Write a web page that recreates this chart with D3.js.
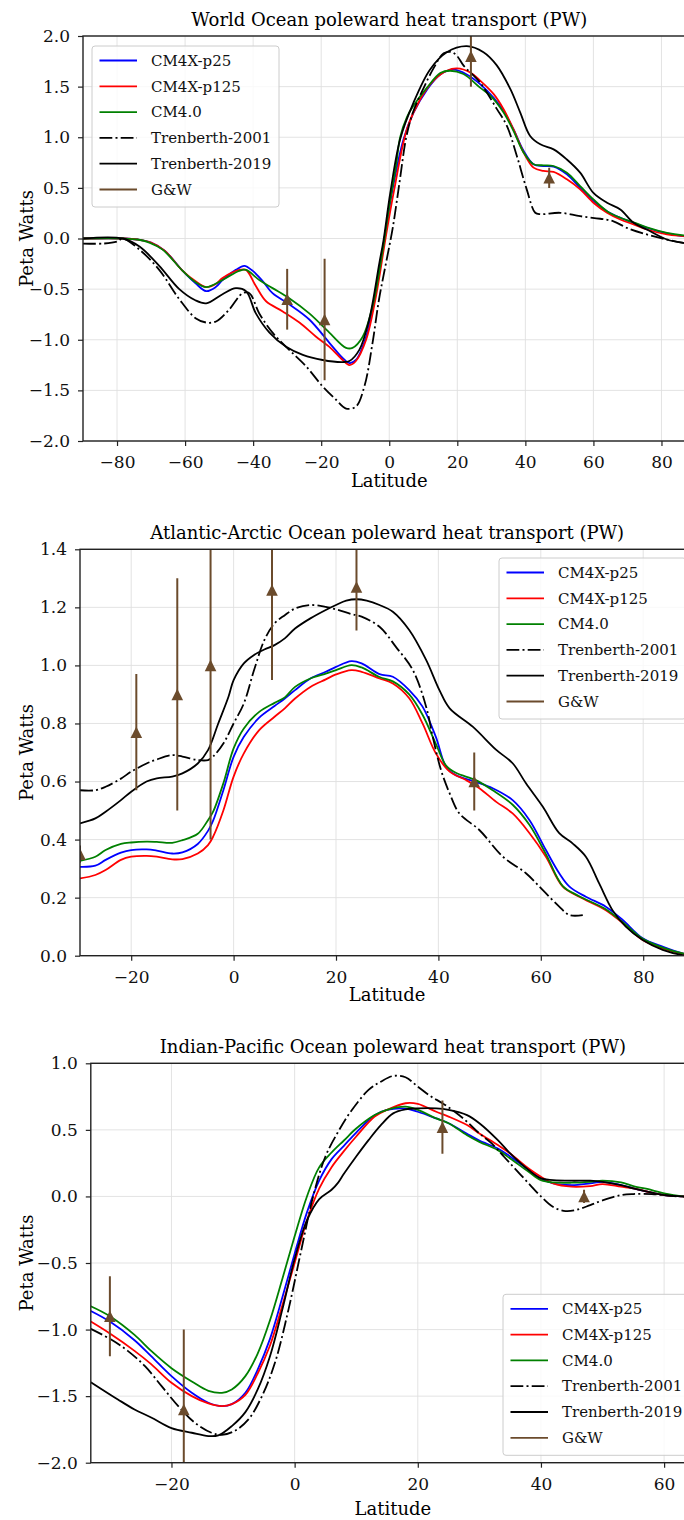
<!DOCTYPE html>
<html>
<head>
<meta charset="utf-8">
<script src="https://cdn.jsdelivr.net/npm/d3@7"></script>
<style>
  body { margin: 0; background: #fff; }
  svg { display: block; overflow: hidden; }
</style>
</head>
<body>
<svg id="chart" width="684" height="1520"></svg>
<script>
// ---- series names (legend order) ----
const seriesNames = ["CM4X-p25", "CM4X-p125", "CM4.0", "Trenberth-2001", "Trenberth-2019", "G&W"];

// ---- World Ocean, [latitude, PW] ----
const worldP25 = [[-90,0],[-78,0],[-74,-0.01],[-70,-0.04],[-66,-0.12],[-60.7,-0.32],[-57,-0.44],[-53.8,-0.52],[-51,-0.48],[-49,-0.41],[-45.1,-0.31],[-42.6,-0.27],[-40.1,-0.32],[-37.2,-0.42],[-34.3,-0.54],[-29.4,-0.65],[-23.5,-0.80],[-17.6,-1.03],[-13.7,-1.18],[-11.7,-1.23],[-9.8,-1.20],[-6.8,-0.97],[-3.9,-0.50],[-1,0.09],[1,0.49],[4.2,0.98],[7.1,1.24],[11.1,1.47],[15,1.62],[18.9,1.667],[22.8,1.62],[26.7,1.525],[30.7,1.39],[33.6,1.26],[36.5,1.08],[39.5,0.865],[42.4,0.733],[45.3,0.716],[48.3,0.71],[52.2,0.634],[56.1,0.50],[60,0.37],[64,0.27],[67.9,0.205],[71.8,0.155],[75.7,0.106],[81.6,0.05],[86.5,0.023],[90,0.01]];
const worldP125 = [[-90,0],[-78,0],[-74,-0.01],[-70,-0.04],[-66,-0.12],[-60.7,-0.32],[-57,-0.42],[-53.8,-0.48],[-51,-0.45],[-49,-0.39],[-44.1,-0.31],[-42.1,-0.31],[-39.2,-0.47],[-36.2,-0.62],[-31.3,-0.72],[-26.4,-0.83],[-21.5,-0.97],[-17.6,-1.07],[-13.7,-1.20],[-11.7,-1.25],[-9.8,-1.21],[-6.8,-1.0],[-3.9,-0.57],[-1,0.02],[1.5,0.49],[5.2,1.08],[9.1,1.376],[13,1.56],[16.9,1.657],[19.9,1.68],[23.8,1.64],[26.7,1.56],[30.7,1.426],[33.6,1.277],[36.5,1.079],[39.5,0.848],[42.4,0.70],[45.3,0.667],[48.3,0.657],[52.2,0.584],[56.1,0.485],[60,0.353],[64,0.254],[67.9,0.188],[71.8,0.139],[75.7,0.089],[81.6,0.04],[86.5,0.023],[90,0.01]];
const worldCM4 = [[-90,0],[-78,0],[-74,-0.01],[-70.5,-0.04],[-66.6,-0.11],[-60.7,-0.32],[-57,-0.43],[-53.8,-0.48],[-49,-0.41],[-44.1,-0.32],[-42.1,-0.31],[-38.2,-0.41],[-34.3,-0.49],[-29.4,-0.59],[-23.5,-0.74],[-17.6,-0.93],[-12.7,-1.08],[-10.8,-1.08],[-7.8,-0.97],[-4.9,-0.67],[-1.9,-0.11],[0,0.32],[2,0.72],[3.2,1.0],[5.2,1.2],[7.1,1.31],[11.1,1.49],[15,1.634],[17.9,1.657],[21.8,1.624],[26.7,1.49],[29.7,1.41],[33.6,1.244],[36.5,1.063],[39.5,0.848],[42.4,0.733],[45.3,0.723],[48.3,0.716],[52.2,0.65],[56.1,0.518],[60,0.386],[64,0.27],[67.9,0.205],[71.8,0.16],[75.7,0.11],[81.6,0.056],[86.5,0.03],[90,0.02]];
const worldT2001 = [[-90,-0.05],[-84,-0.05],[-80,-0.03],[-78.3,0],[-73.4,-0.11],[-67.6,-0.31],[-61.7,-0.60],[-56.8,-0.79],[-53.8,-0.83],[-50.9,-0.82],[-47,-0.70],[-43.1,-0.54],[-41.1,-0.54],[-38.2,-0.74],[-34.3,-0.93],[-29.4,-1.10],[-24.5,-1.26],[-19.6,-1.46],[-15.7,-1.59],[-12.7,-1.68],[-9.8,-1.66],[-7.3,-1.46],[-5,-1.05],[-3,-0.6],[-1,-0.25],[1,0.1],[3,0.55],[5,1.0],[7,1.25],[10,1.48],[13,1.68],[16,1.83],[18.4,1.84],[20,1.8],[21.8,1.71],[26.7,1.54],[31.6,1.28],[34.6,1.11],[37.5,0.815],[40.4,0.485],[42.9,0.254],[44.4,0.24],[50.2,0.254],[56.1,0.22],[62,0.195],[65.9,0.17],[69.8,0.105],[75.7,0.04],[81.6,-0.01],[86.5,-0.043],[90,-0.05]];
const worldT2019 = [[-90,0],[-78.3,0],[-73.4,-0.08],[-67.6,-0.27],[-61.7,-0.50],[-57,-0.61],[-53.8,-0.64],[-49,-0.55],[-45.1,-0.49],[-42.1,-0.52],[-39.2,-0.74],[-35.2,-0.93],[-30.3,-1.07],[-25.4,-1.15],[-19.6,-1.20],[-13.7,-1.22],[-11.7,-1.21],[-8.8,-1.10],[-5.9,-0.80],[-2.9,-0.24],[-1.7,-0.02],[0.3,0.45],[3.2,0.98],[7.1,1.34],[12,1.67],[16.9,1.84],[22.8,1.90],[27.7,1.84],[31.6,1.71],[35.6,1.475],[38.5,1.244],[41.4,1.013],[44.4,0.93],[48.3,0.88],[52.2,0.78],[56.1,0.65],[60,0.45],[64,0.353],[67.9,0.287],[71.8,0.155],[75.7,0.089],[81.6,-0.01],[86.5,-0.043],[90,-0.05]];
const worldGwLat = [-30, -19, 24, 47];
const worldGwVal = [-0.6, -0.8, 1.8, 0.6];
const worldGwErr = [0.3, 0.6, 0.3, 0.1];

// ---- Atlantic-Arctic Ocean ----
const atlP25 = [[-30,0.306],[-27,0.31],[-25,0.33],[-22,0.355],[-20,0.364],[-17,0.366],[-15,0.362],[-12,0.352],[-10,0.356],[-7,0.385],[-5,0.43],[-4,0.465],[-2,0.57],[0,0.685],[2,0.754],[5,0.82],[8,0.86],[10,0.886],[12,0.915],[15,0.955],[18,0.978],[20,0.995],[23,1.015],[25,1.007],[28.5,0.97],[31.1,0.961],[34.3,0.915],[36.9,0.858],[39.5,0.754],[41.5,0.651],[43.4,0.622],[47.3,0.599],[50.6,0.577],[54.5,0.536],[57.8,0.467],[61,0.364],[63.6,0.284],[65.6,0.238],[68.8,0.203],[72.7,0.169],[76,0.123],[79.9,0.06],[83.8,0.031],[87.7,0.008],[90,0.003]];
const atlP125 = [[-30,0.266],[-27,0.278],[-25,0.295],[-22,0.33],[-20,0.341],[-17,0.344],[-15,0.341],[-12,0.332],[-10,0.333],[-7,0.352],[-5,0.381],[-4,0.41],[-2,0.50],[0,0.617],[2,0.697],[5,0.777],[8,0.823],[10,0.852],[12,0.886],[15,0.926],[18,0.952],[20,0.969],[23,0.984],[25,0.978],[28.5,0.955],[31.1,0.938],[34.3,0.887],[36.9,0.80],[39.5,0.697],[42.2,0.634],[45.4,0.605],[48,0.577],[51.3,0.53],[54.5,0.49],[57.8,0.422],[61,0.341],[64.3,0.238],[67.5,0.203],[72.7,0.157],[76,0.112],[79.9,0.054],[83.8,0.025],[87.7,0.007],[90,0.003]];
const atlCM4 = [[-30,0.327],[-27,0.341],[-25,0.364],[-22,0.385],[-20,0.39],[-17,0.393],[-15,0.392],[-12,0.389],[-10,0.398],[-7,0.42],[-5,0.467],[-4,0.496],[-2,0.594],[0,0.714],[2,0.783],[5,0.84],[8,0.871],[10,0.89],[12,0.926],[15,0.955],[18,0.972],[20,0.984],[23,1.001],[25,0.993],[28.5,0.96],[31.1,0.945],[34.3,0.9],[36.9,0.83],[39.5,0.73],[41.5,0.655],[43.4,0.63],[47.3,0.605],[50.6,0.57],[54.5,0.52],[57.8,0.45],[61,0.35],[64.3,0.24],[67.5,0.205],[72.7,0.16],[76,0.115],[79.9,0.058],[83.8,0.028],[87.7,0.008],[90,0.003]];
const atlT2001 = [[-30,0.57],[-27,0.57],[-25,0.582],[-22,0.61],[-20,0.634],[-17,0.662],[-15,0.676],[-12,0.691],[-10,0.686],[-7,0.674],[-5,0.674],[-4,0.686],[-2,0.731],[0,0.80],[2,0.869],[4,0.984],[6,1.087],[8,1.145],[10,1.173],[12,1.196],[15,1.208],[18,1.202],[20,1.193],[23,1.177],[25,1.168],[28.5,1.133],[31.7,1.064],[35,0.984],[37.6,0.858],[38.9,0.754],[40.5,0.64],[42.2,0.559],[44.1,0.49],[48,0.433],[52.6,0.341],[57.1,0.284],[60.4,0.226],[63.6,0.169],[65.6,0.14],[68.2,0.14]];
const atlT2019 = [[-30,0.456],[-27,0.473],[-25,0.496],[-22,0.536],[-20,0.565],[-17,0.6],[-15,0.611],[-12,0.617],[-10,0.628],[-7,0.662],[-5,0.708],[-3,0.80],[-1,0.892],[0,0.949],[2,1.007],[4,1.036],[6,1.055],[8,1.07],[10,1.093],[12,1.127],[15,1.162],[18,1.191],[20,1.208],[22,1.223],[24,1.228],[26,1.223],[28.5,1.208],[31.1,1.185],[34.3,1.122],[37.6,1.019],[40.2,0.915],[42.2,0.852],[46.7,0.789],[51.3,0.709],[54.5,0.663],[57.1,0.594],[60.4,0.513],[63.6,0.422],[66.2,0.387],[68.8,0.341],[71.4,0.249],[74,0.157],[76.6,0.1],[79.9,0.054],[83.8,0.02],[87.7,0.002],[90,0]];
const atlGwLat = [-30, -19, -11, -4.5, 7.5, 24, 47];
const atlGwVal = [0.35, 0.77, 0.9, 1.0, 1.26, 1.27, 0.6];
const atlGwErr = [0.03, 0.2, 0.4, 0.6, 0.31, 0.15, 0.1];

// ---- Indian-Pacific Ocean ----
const ipP25 = [[-33.1,-0.86],[-30,-0.94],[-26,-1.08],[-23.3,-1.2],[-20,-1.35],[-16.7,-1.475],[-14,-1.55],[-11.8,-1.575],[-10.2,-1.56],[-8,-1.475],[-6,-1.3],[-4,-1.07],[-2,-0.76],[0,-0.43],[2,-0.12],[4,0.12],[6,0.28],[8,0.38],[10,0.48],[13,0.61],[15,0.65],[18,0.66],[20,0.636],[23,0.586],[25,0.55],[28,0.47],[30,0.42],[33,0.36],[35,0.30],[38,0.20],[40,0.135],[42,0.098],[45,0.085],[48,0.098],[50,0.11],[53,0.085],[55,0.06],[58,0.028],[60,0.01],[63,0],[65,-0.005]];
const ipP125 = [[-33.1,-0.94],[-30,-1.03],[-26,-1.16],[-23.3,-1.26],[-20,-1.4],[-16.7,-1.5],[-14,-1.555],[-11.8,-1.575],[-10.2,-1.56],[-8,-1.49],[-6,-1.33],[-4,-1.12],[-2,-0.82],[0,-0.5],[2,-0.18],[4,0.06],[6,0.22],[8,0.34],[10,0.45],[13,0.60],[15,0.65],[18,0.70],[20,0.695],[23,0.636],[25,0.60],[28,0.536],[30,0.473],[33,0.386],[35,0.323],[38,0.21],[40,0.148],[42,0.098],[45,0.073],[48,0.078],[50,0.093],[53,0.073],[55,0.06],[58,0.028],[60,0.01],[63,0],[65,-0.005]];
const ipCM4 = [[-33.1,-0.825],[-30,-0.9],[-26,-1.04],[-23.3,-1.16],[-20,-1.29],[-16.7,-1.39],[-14,-1.46],[-11.8,-1.475],[-10.2,-1.45],[-8,-1.35],[-6,-1.18],[-4,-0.93],[-2,-0.62],[0,-0.3],[2,0.0],[4,0.22],[6,0.33],[8,0.42],[10,0.51],[13,0.611],[15,0.65],[18,0.674],[20,0.65],[23,0.586],[25,0.55],[28,0.46],[30,0.41],[33,0.348],[35,0.285],[38,0.185],[40,0.123],[42,0.105],[45,0.103],[48,0.11],[50,0.118],[53,0.105],[55,0.078],[58,0.048],[60,0.023],[63,0],[65,-0.005]];
const ipT2001 = [[-33.1,-0.995],[-29.8,-1.075],[-27.1,-1.16],[-24.3,-1.275],[-21.6,-1.425],[-18.9,-1.575],[-16.2,-1.70],[-13.5,-1.775],[-11.8,-1.79],[-9.7,-1.76],[-7.5,-1.675],[-5.3,-1.5],[-3.2,-1.25],[-1,-0.85],[1,-0.42],[3,0],[5,0.3],[7,0.48],[9,0.63],[12,0.8],[14,0.862],[16,0.905],[18,0.895],[20,0.825],[22,0.755],[24,0.70],[26,0.636],[28,0.561],[30,0.473],[32,0.398],[34,0.298],[36,0.198],[38,0.098],[40,0.0],[42,-0.08],[44,-0.11],[46,-0.098],[48,-0.065],[50,-0.03],[53,0.01],[55,0.018],[58,0.018],[60,0.01],[62,0.0]];
const ipT2019 = [[-33.1,-1.395],[-28.7,-1.525],[-26,-1.6],[-23.3,-1.66],[-20,-1.74],[-16.7,-1.775],[-14,-1.80],[-12.4,-1.795],[-10.2,-1.725],[-8,-1.62],[-6,-1.45],[-4,-1.2],[-2,-0.85],[0,-0.47],[2,-0.18],[4,-0.02],[6,0.05],[7,0.1],[8,0.17],[10,0.3],[12,0.423],[14,0.536],[16,0.624],[18,0.654],[20,0.661],[23,0.661],[25,0.65],[28,0.611],[30,0.55],[33,0.423],[35,0.323],[38,0.198],[40,0.135],[42,0.123],[45,0.118],[48,0.118],[50,0.11],[53,0.085],[55,0.06],[58,0.028],[60,0.01],[63,0],[65,-0.005]];
const ipGwLat = [-30, -18, 24, 47];
const ipGwVal = [-0.9, -1.6, 0.52, 0.0];
const ipGwErr = [0.3, 0.6, 0.2, 0.05];

// ---- tick values ----
const worldXTicks = [-80, -60, -40, -20, 0, 20, 40, 60, 80];
const worldYTicks = [-2, -1.5, -1, -0.5, 0, 0.5, 1, 1.5, 2];
const atlXTicks = [-20, 0, 20, 40, 60, 80];
const atlYTicks = [0, 0.2, 0.4, 0.6, 0.8, 1.0, 1.2, 1.4];
const ipXTicks = [-20, 0, 20, 40, 60];
const ipYTicks = [-2, -1.5, -1, -0.5, 0, 0.5, 1];

// styles
const lineColors = ["#0000ff", "#ff0000", "#008000", "#000000", "#000000", "#6b4b2c"];
const lineDash = [null, null, null, "12.8,3.2,2,3.2", null, null];
const gwColor = "#6b4b2c";
const fontFamily = "'DejaVu Serif', serif";

const panels = [
  {
    title: "World Ocean poleward heat transport (PW)",
    left: 83, top: 36, width: 612.5, height: 405,
    xDomain: [-90, 90], yDomain: [-2, 2],
    xTicks: worldXTicks, yTicks: worldYTicks,
    series: [worldP25, worldP125, worldCM4, worldT2001, worldT2019],
    gwLat: worldGwLat, gwVal: worldGwVal, gwErr: worldGwErr,
    legendX: 9, legendY: 10, xLabelOff: 46
  },
  {
    title: "Atlantic-Arctic Ocean poleward heat transport (PW)",
    left: 80, top: 549.3, width: 614.4, height: 406.4,
    xDomain: [-30, 90], yDomain: [0, 1.4],
    xTicks: atlXTicks, yTicks: atlYTicks,
    series: [atlP25, atlP125, atlCM4, atlT2001, atlT2019],
    gwLat: atlGwLat, gwVal: atlGwVal, gwErr: atlGwErr,
    legendX: 419, legendY: 8.7, xLabelOff: 45
  },
  {
    title: "Indian-Pacific Ocean poleward heat transport (PW)",
    left: 90.8, top: 1063.3, width: 604.1, height: 399.4,
    xDomain: [-33.1, 65], yDomain: [-2, 1],
    xTicks: ipXTicks, yTicks: ipYTicks,
    series: [ipP25, ipP125, ipCM4, ipT2001, ipT2019],
    gwLat: ipGwLat, gwVal: ipGwVal, gwErr: ipGwErr,
    legendX: 412.2, legendY: 231, xLabelOff: 52
  }
];

const svg = d3.select("#chart");

function drawPanel(p, idx) {
  const x = d3.scaleLinear().domain(p.xDomain).range([0, p.width]);
  const y = d3.scaleLinear().domain(p.yDomain).range([p.height, 0]);
  const g = svg.append("g").attr("transform", `translate(${p.left},${p.top})`);

  g.append("clipPath").attr("id", "clip" + idx)
    .append("rect").attr("width", p.width).attr("height", p.height);

  // grid
  const grid = g.append("g").attr("stroke", "#e0e0e0").attr("stroke-width", 0.9);
  grid.selectAll("line.gx").data(p.xTicks).join("line").attr("class", "gx")
    .attr("x1", d => x(d)).attr("x2", d => x(d)).attr("y1", 0).attr("y2", p.height);
  grid.selectAll("line.gy").data(p.yTicks).join("line").attr("class", "gy")
    .attr("x1", 0).attr("x2", p.width).attr("y1", d => y(d)).attr("y2", d => y(d));

  const plot = g.append("g").attr("clip-path", `url(#clip${idx})`);
  const line = d3.line()
    .x(d => x(d[0]))
    .y(d => y(d[1]))
    .curve(d3.curveCatmullRom.alpha(0.5));

  p.series.forEach((s, i) => {
    plot.append("path").datum(s)
      .attr("d", line)
      .attr("fill", "none")
      .attr("stroke", lineColors[i])
      .attr("stroke-width", 1.8)
      .attr("stroke-dasharray", lineDash[i]);
  });

  // G&W error bars with triangle markers
  const gw = p.gwLat.map((lat, i) => ({lat: lat, v: p.gwVal[i], e: p.gwErr[i]}));
  plot.selectAll("line.err").data(gw).join("line").attr("class", "err")
    .attr("x1", d => x(d.lat)).attr("x2", d => x(d.lat))
    .attr("y1", d => y(d.v - d.e)).attr("y2", d => y(d.v + d.e))
    .attr("stroke", gwColor).attr("stroke-width", 2);
  const r = 5.8;
  plot.selectAll("path.tri").data(gw).join("path").attr("class", "tri")
    .attr("d", `M0,${-r}L${-r},${r}L${r},${r}Z`)
    .attr("transform", d => `translate(${x(d.lat)},${y(d.v)})`)
    .attr("fill", gwColor);

  // spines
  g.append("rect").attr("width", p.width).attr("height", p.height)
    .attr("fill", "none").attr("stroke", "#222").attr("stroke-width", 1.4);

  // axes
  const xAxis = g.append("g").attr("transform", `translate(0,${p.height})`)
    .call(d3.axisBottom(x).tickValues(p.xTicks).tickFormat(d3.format("d")).tickSize(5).tickPadding(10));
  const yAxis = g.append("g")
    .call(d3.axisLeft(y).tickValues(p.yTicks).tickFormat(d3.format(".1f")).tickSize(5).tickPadding(8));
  [xAxis, yAxis].forEach(a => {
    a.select(".domain").remove();
    a.attr("font-family", fontFamily).attr("font-size", 17).attr("color", "#111");
    a.selectAll(".tick line").attr("stroke", "#222").attr("stroke-width", 1.2);
  });

  // title and labels
  g.append("text")
    .attr("x", p.width / 2).attr("y", -10.5)
    .attr("text-anchor", "middle")
    .attr("font-family", fontFamily).attr("font-size", 18)
    .text(p.title);
  g.append("text")
    .attr("x", p.width / 2).attr("y", p.height + p.xLabelOff)
    .attr("text-anchor", "middle")
    .attr("font-family", fontFamily).attr("font-size", 18)
    .text("Latitude");
  g.append("text")
    .attr("transform", `translate(${33 - p.left},${p.height / 2}) rotate(-90)`)
    .attr("text-anchor", "middle")
    .attr("font-family", fontFamily).attr("font-size", 18)
    .text("Peta Watts");

  // legend
  const lg = g.append("g").attr("transform", `translate(${p.legendX},${p.legendY})`);
  lg.append("rect")
    .attr("width", 187).attr("height", 161).attr("rx", 3)
    .attr("fill", "#fff").attr("fill-opacity", 0.8)
    .attr("stroke", "#cccccc").attr("stroke-width", 1);
  const items = lg.selectAll("g.item").data(seriesNames).join("g")
    .attr("class", "item")
    .attr("transform", (d, i) => `translate(0,${14.5 + i * 25.8})`);
  items.append("line")
    .attr("x1", 7.5).attr("x2", 45)
    .attr("stroke", (d, i) => lineColors[i])
    .attr("stroke-width", 1.8)
    .attr("stroke-dasharray", (d, i) => lineDash[i]);
  items.append("text")
    .attr("x", 59).attr("dy", "0.35em")
    .attr("font-family", fontFamily).attr("font-size", 15)
    .attr("fill", "#111")
    .text(d => d);
}

panels.forEach(drawPanel);
</script>
</body>
</html>
